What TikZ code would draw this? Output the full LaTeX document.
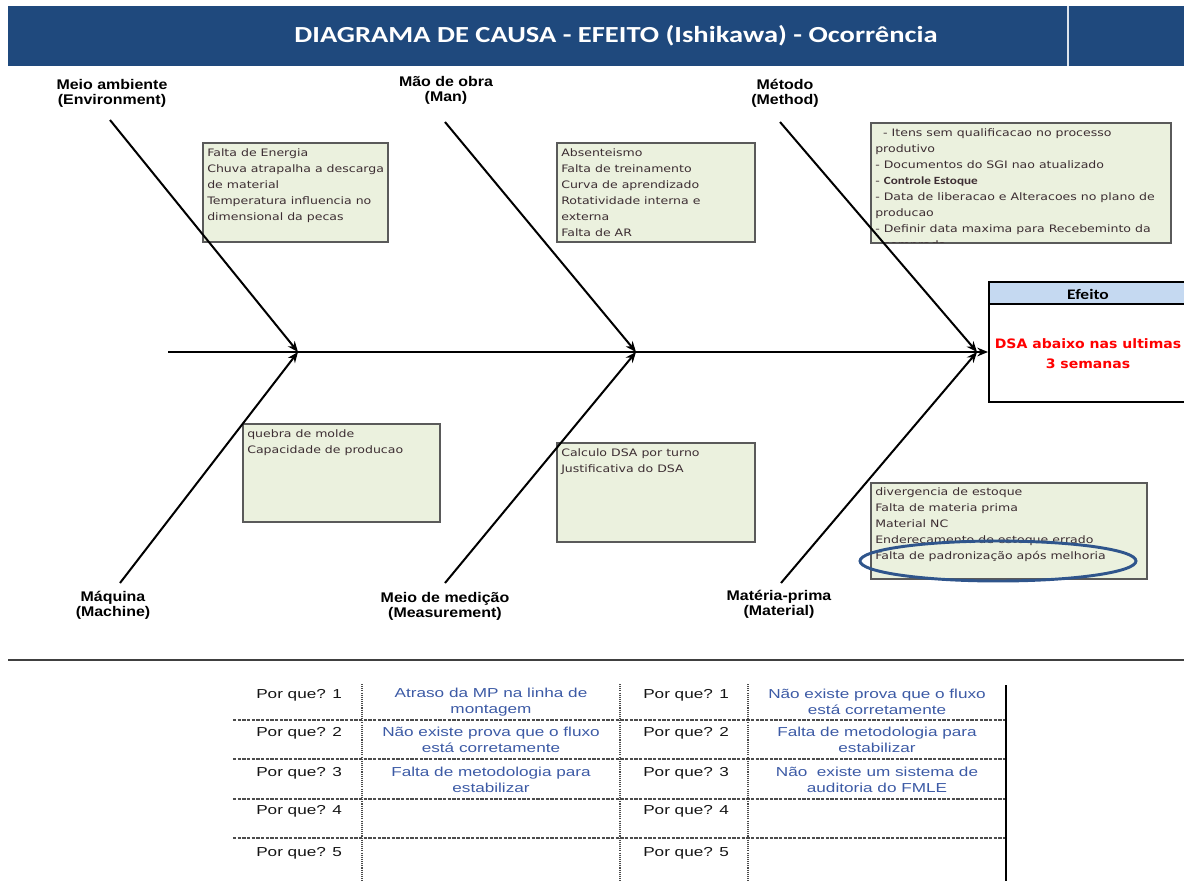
\documentclass[tikz,border=0pt]{standalone}
\usepackage{fontspec}
\setmainfont{DejaVu Sans}
\newfontfamily\titlefont[FakeStretch=1.24]{Carlito}
\newfontfamily\calfont[FakeStretch=1.2]{Carlito}
\newfontfamily\boxfont[FakeStretch=1.22]{DejaVu Sans}
\newfontfamily\efffont[FakeStretch=1.08]{DejaVu Sans}
\newfontfamily\bonefont[FakeStretch=1.14]{Liberation Sans}
\newfontfamily\tabfont[FakeStretch=1.32]{Liberation Sans}
\usetikzlibrary{arrows.meta,fit}

\definecolor{barblue}{RGB}{31,73,125}
\definecolor{boxfill}{RGB}{235,241,222}
\definecolor{boxedge}{RGB}{90,90,90}
\definecolor{boxtextc}{RGB}{60,45,50}
\definecolor{hdrblue}{RGB}{197,217,241}
\definecolor{ringblue}{RGB}{47,85,140}
\definecolor{ansblue}{RGB}{60,90,165}
\definecolor{whytext}{RGB}{20,20,20}

\tikzset{
  causebox/.style={draw=boxedge, fill=boxfill, line width=1.1pt, inner sep=0pt},
  boxtext/.style={anchor=north west, inner sep=0pt, align=left, text=boxtextc,
    font=\boxfont\fontsize{7.7}{12}\selectfont},
  bone/.style={line width=1.5pt, -{Stealth[length=8pt,width=6.5pt]}},
  spine/.style={line width=2pt, -{Stealth[length=8pt,width=6.5pt]}},
  bonelabel/.style={align=center, inner sep=0pt,
    font=\bonefont\bfseries\fontsize{10.5}{11.25}\selectfont},
  whylabel/.style={anchor=base west, inner sep=0pt, text=whytext,
    font=\tabfont\fontsize{9.75}{11.5}\selectfont},
  answer/.style={align=center, inner sep=0pt, text=ansblue,
    font=\tabfont\fontsize{9.75}{11.5}\selectfont},
  rowline/.style={dash pattern=on 2.5pt off 1pt, line width=0.9pt, draw=black!70},
  colline/.style={dash pattern=on 0.8pt off 0.8pt, line width=1pt, draw=black!70},
}

\begin{document}
\begin{tikzpicture}[x=0.75pt,y=-0.75pt]
\useasboundingbox (0,0) rectangle (1184,881);

% ---- title bar ----
\node[fit={(8,6) (1190,66)}, inner sep=0pt, fill=barblue] (bar) {};
\draw[white!85!barblue, line width=0.9pt] (1068,6) -- (1068,66);
\node[text=white, inner sep=0pt, font=\titlefont\bfseries\fontsize{17.25}{20}\selectfont]
  (title) at (616,36) {DIAGRAMA DE CAUSA - EFEITO (Ishikawa) - Ocorrência};

% ---- cause boxes ----
\node[causebox, fit={(203,143) (388,242)}] (envbox) {};
\node[boxtext] (envtxt) at (207,148) {Falta de Energia\\Chuva atrapalha a descarga\\de material\\Temperatura influencia no\\dimensional da pecas};

\node[causebox, fit={(557,143) (755,242)}] (manbox) {};
\node[boxtext] (mantxt) at (561,148) {Absenteismo\\Falta de treinamento\\Curva de aprendizado\\Rotatividade interna e\\externa\\Falta de AR};

\node[causebox, fit={(871,123) (1171,243)}] (metbox) {};
\begin{scope}
  \clip (872,124) rectangle (1170,242);
  \node[boxtext] (mettxt) at (875,128) {\ \ - Itens sem qualificacao no processo\\produtivo\\- Documentos do SGI nao atualizado\\- {\calfont\bfseries\fontsize{8.25}{12}\selectfont Controle Estoque}\\- Data de liberacao e Alteracoes no plano de\\producao\\- Definir data maxima para Recebeminto da\\\ \ comprada};
\end{scope}

\node[causebox, fit={(243,424) (440,522)}] (macbox) {};
\node[boxtext] (mactxt) at (247,429) {quebra de molde\\Capacidade de producao};

\node[causebox, fit={(557,443) (755,542)}] (meabox) {};
\node[boxtext] (meatxt) at (561,448) {Calculo DSA por turno\\Justificativa do DSA};

\node[causebox, fit={(871,483) (1147,579)}] (matbox) {};
\node[boxtext] (mattxt) at (875,487) {divergencia de estoque\\Falta de materia prima\\Material NC\\Enderecamento de estoque errado\\Falta de padronização após melhoria};
\draw[ringblue, line width=2.2pt] (998,561) ellipse [x radius=138, y radius=20];

% ---- effect box ----
\node[fit={(989,282) (1190,402)}, inner sep=0pt, draw, line width=1.5pt] (eff) {};
\node[fit={(989,282) (1190,304)}, inner sep=0pt, draw, fill=hdrblue, line width=1.2pt] (effhead) {};
\node[inner sep=0pt, font=\calfont\bfseries\fontsize{10.9}{12}\selectfont] (efftitle) at (1088,294) {Efeito};
\node[inner sep=0pt, align=center, text=red, font=\efffont\bfseries\fontsize{9.75}{15}\selectfont]
  (efftxt) at (1088,354) {DSA abaixo nas ultimas\\3 semanas};

% ---- spine and bones ----
\coordinate (tail) at (168,352);
\coordinate (head) at (988,352);
\coordinate (j1) at (298,352);
\coordinate (j2) at (636,352);
\coordinate (j3) at (977,352);
\coordinate (t1) at (110,120);
\coordinate (t2) at (445,122);
\coordinate (t3) at (780,122);
\coordinate (u1) at (120,583);
\coordinate (u2) at (445,583);
\coordinate (u3) at (781,583);

\draw[spine] (tail) -- (head);
\foreach \s/\e in {t1/j1,t2/j2,t3/j3,u1/j1,u2/j2,u3/j3}
  \draw[bone] (\s) -- (\e);

\node[bonelabel] (lenv) at (112,93) {Meio ambiente\\(Environment)};
\node[bonelabel] (lman) at (446,90) {Mão de obra\\(Man)};
\node[bonelabel] (lmet) at (785,93) {Método\\(Method)};
\node[bonelabel] (lmac) at (113,605) {Máquina\\(Machine)};
\node[bonelabel] (lmea) at (445,606) {Meio de medição\\(Measurement)};
\node[bonelabel] (lmat) at (779,604) {Matéria-prima\\(Material)};

% ---- separator ----
\draw[black!75, line width=1.5pt] (8,660) -- (1184,660);

% ---- five whys table ----
\foreach \y in {720,759,799,838}
  \draw[rowline] (233,\y) -- (1006,\y);
\foreach \x in {362,620,748}
  \draw[colline] (\x,684) -- (\x,881);
\draw[black, line width=1.6pt] (1006,685) -- (1006,881);

\foreach \n/\y in {1/694,2/732,3/772,4/810,5/852}{
  \node[whylabel] (wl\n) at (256,\y+4.5) {Por que? \n};
  \node[whylabel] (wr\n) at (643,\y+4.5) {Por que? \n};
}
\node[answer] (al1) at (491,702) {Atraso da MP na linha de\\montagem};
\node[answer] (al2) at (491,740) {Não existe prova que o fluxo\\está corretamente};
\node[answer] (al3) at (491,780) {Falta de metodologia para\\estabilizar};
\node[answer] (ar1) at (877,702) {Não existe prova que o fluxo\\está corretamente};
\node[answer] (ar2) at (877,740) {Falta de metodologia para\\estabilizar};
\node[answer] (ar3) at (877,780) {Não\ \ existe um sistema de\\auditoria do FMLE};

\end{tikzpicture}
\end{document}
